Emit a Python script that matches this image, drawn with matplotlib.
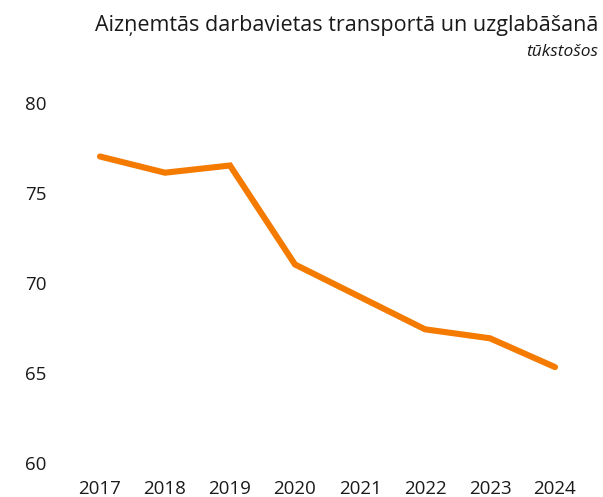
import matplotlib
matplotlib.use("Agg")
import matplotlib.pyplot as plt

# Employed positions in transport and storage, thousands
years = [2017, 2018, 2019, 2020, 2021, 2022, 2023, 2024]
jobs = [77.0, 76.1, 76.5, 71.0, 69.2, 67.4, 66.9, 65.3]
y_ticks = [60, 65, 70, 75, 80]

title = "Aizņemtās darbavietas transportā un uzglabāšanā"
subtitle = "tūkstošos"

plt.rcParams["font.family"] = ["Open Sans", "DejaVu Sans"]
text_color = "#1a1a1a"
line_color = "#F47A00"

fig = plt.figure(figsize=(6.03, 4.97), dpi=100)
W, H = 603, 497
# axes placed in pixel terms: x 2017..2024 -> 100..555 px, y 80..60 -> 102.5..462.5 px
left, right = 70, 585
top, bottom = 102.5, 462.5
ax = fig.add_axes([left / W, 1 - bottom / H, (right - left) / W, (bottom - top) / H])

ax.plot(years, jobs, color=line_color, lw=4.4,
        solid_capstyle="round", solid_joinstyle="miter")

ax.set_xlim(2017 - 30 / 65, 2024 + 30 / 65)
ax.set_ylim(60, 80)
ax.set_xticks(years)
ax.set_xticklabels([str(y) for y in years])
ax.set_yticks(y_ticks)

for s in ax.spines.values():
    s.set_visible(False)
ax.tick_params(axis="both", length=0, labelsize=13.5, colors=text_color)
ax.tick_params(axis="y", pad=17)
ax.tick_params(axis="x", pad=12.5)

fig.text(598 / W, 1 - 31 / H, title, ha="right", va="baseline",
         fontsize=15.5, color=text_color)
fig.text(598 / W, 1 - 56 / H, subtitle, ha="right", va="baseline",
         fontsize=12.5, style="italic", color=text_color)

fig.savefig("out.png", dpi=100)
